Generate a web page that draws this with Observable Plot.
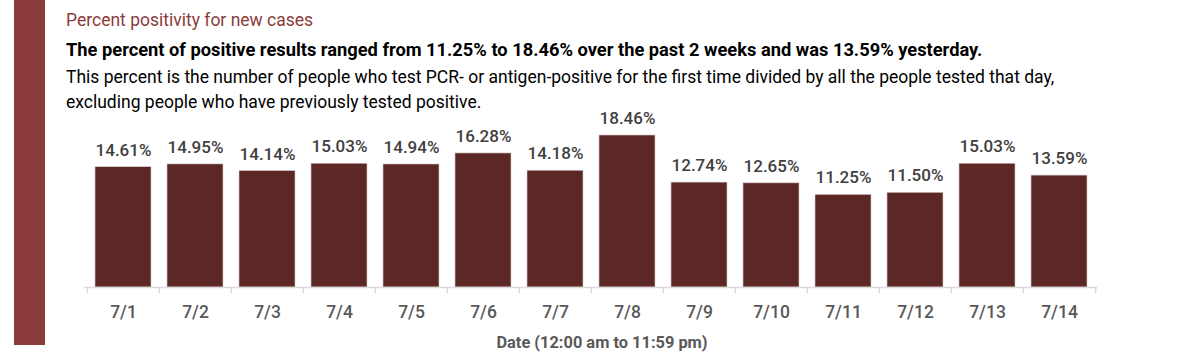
<!DOCTYPE html>
<html>
<head>
<meta charset="utf-8">
<script src="https://cdn.jsdelivr.net/npm/d3@7"></script>
<script src="https://cdn.jsdelivr.net/npm/@observablehq/plot@0.6"></script>
<style>
  html, body { margin: 0; padding: 0; background: #fff; }
  body { width: 1200px; height: 362px; position: relative; overflow: hidden; font-family: Roboto, "Liberation Sans", sans-serif; }
  .sidebar { position: absolute; left: 14px; top: 0; width: 31px; height: 345px; background: #8c3b3b; }
  .t { position: absolute; left: 66px; white-space: nowrap; }
  #title { top: 10px; font-size: 17.5px; color: #8c3b3b; }
  #sub { top: 39px; font-size: 18.3px; font-weight: bold; color: #000; }
  #desc1 { top: 67px; font-size: 17.5px; color: #000; }
  #desc2 { top: 92px; font-size: 17.5px; color: #000; }
  #xlabel { position: absolute; top: 333px; left: 0; width: 1204px; text-align: center; font-size: 16.4px; font-weight: bold; color: #595959; }
  #chart { position: absolute; left: 0; top: 110px; }
</style>
</head>
<body>
<div class="sidebar"></div>
<div class="t" id="title">Percent positivity for new cases</div>
<div class="t" id="sub">The percent of positive results ranged from 11.25% to 18.46% over the past 2 weeks and was 13.59% yesterday.</div>
<div class="t" id="desc1">This percent is the number of people who test PCR- or antigen-positive for the first time divided by all the people tested that day,</div>
<div class="t" id="desc2">excluding people who have previously tested positive.</div>
<div id="chart"></div>
<div id="xlabel">Date (12:00 am to 11:59 pm)</div>
<script>
const dates = ["7/1","7/2","7/3","7/4","7/5","7/6","7/7","7/8","7/9","7/10","7/11","7/12","7/13","7/14"];
const positivity = [14.61,14.95,14.14,15.03,14.94,16.28,14.18,18.46,12.74,12.65,11.25,11.50,15.03,13.59];
const valueLabels = ["14.61%","14.95%","14.14%","15.03%","14.94%","16.28%","14.18%","18.46%","12.74%","12.65%","11.25%","11.50%","15.03%","13.59%"];

const data = dates.map((d, i) => ({date: d, value: positivity[i], label: valueLabels[i]}));

const W = 1200, H = 252, mL = 84, mR = 103;
const step = (W - mL - mR) / dates.length;

const chart = Plot.plot({
  width: W,
  height: H,
  marginLeft: mL,
  marginRight: mR,
  marginTop: 25,
  marginBottom: 75,
  x: {domain: dates, padding: 0, axis: null},
  y: {domain: [0, 18.46], axis: null},
  style: {fontFamily: "Roboto, 'Liberation Sans', sans-serif", overflow: "visible"},
  marks: [
    Plot.barY(data, {x: "date", y: "value", fill: "#5c2826", stroke: "#d8c8c8", strokeWidth: 0.6, insetLeft: 8, insetRight: 8}),
    Plot.ruleY([0], {stroke: "#d9d9d9", strokeWidth: 1.5}),
    Plot.ruleX(dates, {x: d => d, y1: 0, y2: -0.75, dx: -step / 2, stroke: "#d9d9d9", strokeWidth: 1.5}),
    Plot.ruleX([dates[dates.length - 1]], {x: d => d, y1: 0, y2: -0.75, dx: step / 2, stroke: "#d9d9d9", strokeWidth: 1.5}),
    Plot.text(data, {x: "date", y: "value", text: "label", dy: -17, fontSize: 17, fontWeight: 500, fill: "#404040"}),
    Plot.text(dates, {x: d => d, y: 0, text: d => d, dy: 25, fontSize: 17.5, fontWeight: 500, fill: "#595959"})
  ]
});
document.getElementById("chart").appendChild(chart);
</script>
</body>
</html>
